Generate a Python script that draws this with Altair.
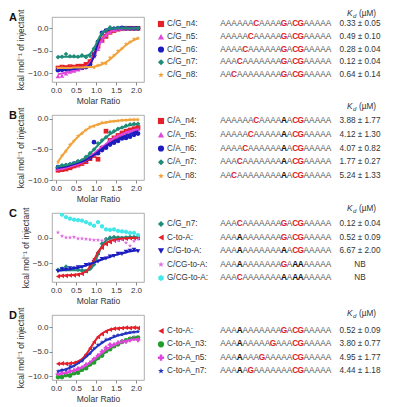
import altair as alt
import pandas as pd

F = "Liberation Sans"

# molar ratio of each injection
mr = [0.05, 0.15, 0.25, 0.35, 0.45, 0.55, 0.65, 0.75, 0.85, 0.95, 1.05,
      1.15, 1.25, 1.35, 1.45, 1.55, 1.65, 1.75, 1.85, 1.95, 2.05]

# ---------------- Panel A ----------------
a_labels = ["C/G_n4:", "C/G_n5:", "C/G_n6:", "C/G_n7:", "C/G_n8:"]
a_seqs = ["AAAAAA[C]AAAA[G]A[CG]AAAAA", "AAAAA[C]AAAAA[G]A[CG]AAAAA",
          "AAAA[C]AAAAAA[G]A[CG]AAAAA", "AAA[C]AAAAAAA[G]A[CG]AAAAA",
          "AA[C]AAAAAAAA[G]A[CG]AAAAA"]
a_kd = ["0.33 ± 0.05", "0.49 ± 0.10", "0.28 ± 0.04", "0.12 ± 0.04", "0.64 ± 0.14"]
a_pts = [
    [-8.8, -8.6, -8.7, -8.5, -8.6, -8.4, -8.4, -8.0, -7.4, -5.7, -4.0, -2.7, -1.8, -0.9, -0.5, -0.2, -0.1, 0.0, 0.0, 0.0, 0.0],
    [-10.6, -10.5, -10.0, -9.6, -9.4, -9.1, -8.8, -8.4, -7.6, -6.2, -4.6, -2.8, -1.5, -0.8, -0.4, -0.2, -0.1, 0.0, 0.0, 0.0, 0.0],
    [-9.3, -9.2, -9.1, -9.0, -9.0, -8.9, -8.8, -8.6, -8.0, -6.0, -3.0, -1.0, -0.5, -0.2, -0.1, 0.0, 0.1, 0.0, 0.0, 0.0, 0.0],
    [-6.4, -6.3, -5.7, -6.2, -6.2, -6.3, -6.0, -6.4, -6.1, -4.5, -3.0, -1.2, -0.6, 0.2, 0.0, 0.1, 0.0, 0.1, -0.1, 0.0, 0.0],
    [-8.8, -8.7, -8.7, -8.6, -8.7, -8.6, -8.6, -8.6, -8.5, -8.7, -8.2, -7.7, -7.8, -6.5, -6.0, -5.0, -4.5, -3.5, -3.0, -2.4, -2.2],
]
a_fit = [
    [-8.7, -8.7, -8.6, -8.6, -8.5, -8.4, -8.3, -8.0, -7.3, -5.8, -3.8, -2.3, -1.3, -0.7, -0.4, -0.2, -0.1, -0.05, 0.0, 0.0, 0.0],
    [-10.2, -10.0, -9.8, -9.6, -9.4, -9.2, -8.9, -8.5, -7.7, -6.2, -4.3, -2.6, -1.5, -0.8, -0.4, -0.2, -0.1, -0.05, 0.0, 0.0, 0.0],
    [-9.2, -9.2, -9.1, -9.1, -9.0, -8.9, -8.8, -8.6, -8.0, -6.2, -3.2, -1.2, -0.4, -0.15, -0.05, 0.0, 0.0, 0.0, 0.0, 0.0, 0.0],
    [-6.3, -6.3, -6.3, -6.3, -6.3, -6.3, -6.2, -6.1, -5.7, -4.5, -2.6, -1.1, -0.4, -0.15, -0.05, 0.0, 0.0, 0.0, 0.0, 0.0, 0.0],
    [-8.8, -8.8, -8.8, -8.8, -8.7, -8.7, -8.7, -8.6, -8.6, -8.5, -8.3, -8.0, -7.5, -6.9, -6.1, -5.3, -4.5, -3.7, -3.1, -2.6, -2.2],
]

# ---------------- Panel B ----------------
b_labels = ["C/A_n4:", "C/A_n5:", "C/A_n6:", "C/A_n7:", "C/A_n8:"]
b_seqs = ["AAAAAA[C]AAAA{A}A[CG]AAAAA", "AAAAA[C]AAAAA{A}A[CG]AAAAA",
          "AAAA[C]AAAAAA{A}A[CG]AAAAA", "AAA[C]AAAAAAA{A}A[CG]AAAAA",
          "AA[C]AAAAAAAA{A}A[CG]AAAAA"]
b_kd = ["3.88 ± 1.77", "4.12 ± 1.30", "4.07 ± 0.82", "1.77 ± 0.27", "5.24 ± 1.33"]
b_pts = [
    [-8.4, -8.3, -8.2, -8.0, -7.7, -7.5, -7.3, -7.0, -6.5, -6.0, -6.6, -4.8, -2.0, -3.5, -3.1, -2.7, -2.3, -2.0, -1.8, -1.6, -1.4],
    [-8.2, -8.0, -8.0, -7.7, -7.5, -7.6, -7.2, -6.9, -6.4, -5.8, -5.2, -4.5, -4.2, -3.4, -3.0, -2.7, -2.5, -2.2, -2.0, -1.8, -1.7],
    [-7.9, -7.8, -7.7, -7.5, -7.3, -7.1, -7.0, -6.8, -6.4, -3.8, -5.6, -5.1, -4.7, -4.2, -3.9, -3.6, -3.2, -3.1, -2.9, -2.6, -2.4],
    [-7.9, -7.6, -7.5, -7.4, -7.3, -6.9, -6.8, -6.2, -5.6, -5.0, -4.0, -3.5, -3.0, -2.2, -2.0, -1.6, -1.4, -1.1, -0.9, -0.8, -0.8],
    [-7.1, -6.0, -5.3, -4.2, -3.6, -2.8, -2.4, -1.8, -1.3, -1.2, -0.9, -0.6, -0.6, -0.4, -0.4, -0.3, -0.2, -0.2, -0.1, -0.1, -0.1],
]
b_fit = [
    [-8.6, -8.5, -8.3, -8.1, -7.9, -7.6, -7.3, -6.9, -6.4, -5.9, -5.3, -4.8, -4.3, -3.8, -3.3, -2.9, -2.5, -2.2, -1.9, -1.6, -1.4],
    [-8.3, -8.2, -8.0, -7.8, -7.6, -7.4, -7.1, -6.7, -6.2, -5.7, -5.1, -4.6, -4.1, -3.6, -3.2, -2.8, -2.5, -2.2, -2.0, -1.8, -1.7],
    [-8.0, -7.9, -7.8, -7.6, -7.4, -7.2, -7.0, -6.7, -6.3, -5.9, -5.4, -4.9, -4.4, -4.0, -3.6, -3.3, -3.0, -2.7, -2.5, -2.2, -2.0],
    [-7.8, -7.7, -7.6, -7.4, -7.2, -7.0, -6.7, -6.3, -5.7, -5.0, -4.3, -3.6, -3.0, -2.5, -2.1, -1.7, -1.4, -1.2, -1.0, -0.9, -0.8],
    [-7.0, -6.1, -5.2, -4.4, -3.6, -2.9, -2.3, -1.8, -1.4, -1.1, -0.9, -0.7, -0.55, -0.45, -0.35, -0.28, -0.22, -0.18, -0.15, -0.12, -0.1],
]

# ---------------- Panel C ----------------
c_labels = ["C/G_n7:", "C-to-A:", "C/G-to-A:", "C/CG-to-A:", "G/CG-to-A:"]
c_seqs = ["AAA[C]AAAAAAA[G]A[CG]AAAAA", "AAA{A}AAAAAAA[G]A[CG]AAAAA",
          "AAA{A}AAAAAAA{A}A[CG]AAAAA", "AAA{A}AAAAAAA[G]A{AA}AAAAA",
          "AAA[C]AAAAAAA{A}A{AA}AAAAA"]
c_kd = ["0.12 ± 0.04", "0.52 ± 0.09", "6.67 ± 2.00", "NB", "NB"]
c_pts = [
    [-6.3, -6.1, -5.7, -6.2, -6.0, -6.3, -6.5, -6.6, -6.0, -5.3, -3.0, -1.2, -0.3, 0.0, 0.1, 0.0, -0.1, 0.0, 0.1, 0.1, 0.0],
    [-7.6, -7.5, -7.5, -7.4, -7.4, -7.3, -7.1, -6.6, -5.6, -4.2, -3.0, -2.0, -1.3, -0.9, -0.6, -0.4, -0.3, -0.2, -0.1, -0.1, -0.1],
    [-6.6, -6.2, -6.3, -6.0, -6.1, -5.8, -5.8, -5.4, -5.3, -4.8, -4.7, -4.2, -4.1, -3.7, -3.6, -3.2, -3.2, -2.8, -2.6, -2.4, -2.7],
    [1.0, 0.3, 0.0, 0.0, 0.1, -0.2, -0.2, -0.3, -0.4, -0.5, -0.5, -0.6, -0.5, -0.5, -0.5, -0.6, -0.4, -1.0, -1.6, -0.7, -0.3],
    [5.6, 4.5, 4.0, 3.7, 3.5, 3.4, 3.3, 3.0, 2.7, 2.3, 3.0, 2.2, 1.6, 1.5, 1.6, 1.3, 1.2, 1.1, 0.9, 0.9, 0.5],
]
c_fit = [
    [-6.4, -6.4, -6.4, -6.4, -6.4, -6.4, -6.4, -6.4, -6.3, -5.2, -3.4, -1.6, -0.6, -0.2, 0.0, 0.0, 0.0, 0.0, 0.0, 0.0, 0.0],
    [-7.5, -7.5, -7.4, -7.4, -7.3, -7.2, -7.0, -6.6, -5.8, -4.4, -2.9, -1.8, -1.1, -0.7, -0.45, -0.3, -0.2, -0.15, -0.1, -0.08, -0.05],
    [-6.5, -6.4, -6.3, -6.2, -6.0, -5.9, -5.7, -5.5, -5.2, -4.9, -4.6, -4.3, -4.0, -3.8, -3.5, -3.3, -3.1, -2.9, -2.7, -2.6, -2.5],
    None,
    None,
]

# ---------------- Panel D ----------------
d_labels = ["C-to-A:", "C-to-A_n3:", "C-to-A_n5:", "C-to-A_n7:"]
d_seqs = ["AAA{A}AAAAAAA[G]A[CG]AAAAA", "AAA{A}AAAAA[G]AAA[CG]AAAAA",
          "AAA{A}AAA[G]AAAAA[CG]AAAAA", "AAA{A}A[G]AAAAAAA[CG]AAAAA"]
d_kd = ["0.52 ± 0.09", "3.80 ± 0.77", "4.95 ± 1.77", "4.44 ± 1.18"]
d_pts = [
    [-7.5, -7.4, -7.5, -7.4, -7.3, -7.1, -6.6, -5.6, -4.3, -3.0, -2.0, -1.4, -0.9, -0.5, -0.3, -0.3, -0.2, -0.1, -0.2, -0.1, -0.2],
    [-10.2, -10.2, -9.8, -9.9, -9.4, -9.3, -8.7, -8.4, -7.6, -7.2, -6.3, -5.8, -4.9, -4.5, -3.9, -3.5, -3.0, -2.7, -2.4, -2.2, -2.1],
    [-9.6, -9.4, -9.4, -9.0, -8.9, -8.5, -8.3, -7.7, -7.3, -6.5, -5.8, -5.0, -4.2, -3.6, -3.6, -3.2, -2.9, -2.9, -2.6, -2.3, -2.6],
    [-9.0, -8.7, -8.7, -8.0, -7.9, -7.2, -6.9, -5.8, -5.4, -4.3, -3.6, -3.1, -2.5, -2.4, -1.8, -1.6, -1.5, -1.2, -1.1, -1.0, -0.9],
]
d_fit = [
    [-7.5, -7.5, -7.4, -7.4, -7.3, -7.0, -6.5, -5.6, -4.4, -3.1, -2.0, -1.3, -0.8, -0.5, -0.3, -0.2, -0.15, -0.1, -0.1, -0.05, -0.05],
    [-10.2, -10.1, -9.9, -9.7, -9.5, -9.2, -8.8, -8.3, -7.7, -7.1, -6.4, -5.7, -5.0, -4.4, -3.9, -3.4, -3.0, -2.7, -2.4, -2.2, -2.1],
    [-9.6, -9.5, -9.3, -9.1, -8.9, -8.6, -8.2, -7.8, -7.2, -6.6, -5.9, -5.2, -4.6, -4.1, -3.7, -3.3, -3.0, -2.8, -2.6, -2.5, -2.4],
    [-9.0, -8.8, -8.6, -8.3, -7.9, -7.4, -6.8, -6.1, -5.3, -4.5, -3.8, -3.2, -2.7, -2.3, -2.0, -1.7, -1.5, -1.3, -1.1, -1.0, -0.9],
]

# ---------------- styles ----------------
RED, MAG, BLUE, TEAL, ORANGE = "#e4202a", "#e046dc", "#1c1cc0", "#1f8c78", "#f2a23a"
PINK, CYAN, GREEN, BLUE2 = "#e070e0", "#44e8e8", "#1f9e2c", "#2233c0"
STAR = "M0,-1L0.235,-0.324L0.951,-0.309L0.38,0.124L0.588,0.809L0,0.4L-0.588,0.809L-0.38,0.124L-0.951,-0.309L-0.235,-0.324Z"
HEX = "M0,-1L0.866,-0.5L0.866,0.5L0,1L-0.866,0.5L-0.866,-0.5Z"

a_style = [(RED, "square"), (MAG, "triangle-up"), (BLUE, "circle"), (TEAL, "diamond"), (ORANGE, STAR)]
b_style = a_style
c_style = [(TEAL, "diamond"), (RED, "triangle-left"), (BLUE, "triangle-down"), (PINK, STAR), (CYAN, HEX)]
d_style = [(RED, "triangle-left"), (GREEN, "circle"), (MAG, "cross"), (BLUE2, STAR)]

SEQ_RED = "#e0202a"


def seq_chars(seq):
    out, mode, i = [], "n", 0
    for ch in seq:
        if ch == "[":
            mode = "r"
        elif ch == "{":
            mode = "b"
        elif ch in "]}":
            mode = "n"
        else:
            out.append((i, ch, mode))
            i += 1
    return out


def plot_panel(letter, labels, pts, fits, style, ydom, yvals, h):
    prow, frow = [], []
    for k, lab in enumerate(labels):
        col, shp = style[k]
        for x, v in zip(mr, pts[k]):
            prow.append(dict(s=lab, mr=x, v=v, color=col, shape=shp))
        if fits[k] is not None:
            for x, v in zip(mr, fits[k]):
                frow.append(dict(s=lab, mr=x, v=v, color=col))
    X = alt.X("mr:Q", scale=alt.Scale(domain=[-0.1, 2.2], nice=False, zero=False),
              axis=alt.Axis(values=[0, 0.5, 1, 1.5, 2], format=".1f", title="Molar Ratio"))
    Y = alt.Y("v:Q", scale=alt.Scale(domain=ydom, nice=False, zero=False),
              axis=alt.Axis(values=yvals, format=".1f", title="kcal mol⁻¹ of injectant"))
    p = alt.Chart(pd.DataFrame(prow)).mark_point(filled=True, size=22, opacity=1, clip=True).encode(
        X, Y, color=alt.Color("color:N", scale=None), shape=alt.Shape("shape:N", scale=None), detail="s:N")
    l = alt.Chart(pd.DataFrame(frow)).mark_line(strokeWidth=2, clip=True, interpolate="monotone").encode(
        X, Y, color=alt.Color("color:N", scale=None), detail="s:N", order="mr:Q")
    t = alt.Chart(pd.DataFrame({"t": [letter]})).mark_text(
        font=F, fontWeight="bold", fontSize=11, align="left", baseline="top", color="#111").encode(
        x=alt.value(-43), y=alt.value(-5), text="t:N")
    return alt.layer(p, l, t).properties(width=92, height=h, view=alt.ViewBackground(stroke="#999", strokeWidth=0.8))


def table_panel(labels, seqs, kds, style, h, rng, head_y):
    rows, chars = [], []
    for k, lab in enumerate(labels):
        col, shp = style[k]
        rows.append(dict(row=k + 1, label=lab, kd=kds[k], color=col, shape=shp))
        for i, ch, m in seq_chars(seqs[k]):
            chars.append(dict(row=k + 1, pos=i, ch=ch, kind=m))
    rdf, cdf = pd.DataFrame(rows), pd.DataFrame(chars)
    Y = alt.Y("row:Q", scale=alt.Scale(domain=[1, len(labels)], range=rng), axis=None)
    XP = alt.X("pos:Q", scale=alt.Scale(domain=[0, 19], range=[75, 180.5]), axis=None)
    sym = alt.Chart(rdf).mark_point(filled=True, size=38, opacity=1).encode(
        x=alt.value(13), y=Y, color=alt.Color("color:N", scale=None), shape=alt.Shape("shape:N", scale=None))
    lab = alt.Chart(rdf).mark_text(align="left", baseline="middle", font=F, fontSize=8.2, color="#333").encode(
        x=alt.value(19), y=Y, text="label:N")
    kd = alt.Chart(rdf).mark_text(align="center", baseline="middle", font=F, fontSize=8.2, color="#333").encode(
        x=alt.value(212), y=Y, text="kd:N")
    chn = alt.Chart(cdf).transform_filter("datum.kind == 'n'").mark_text(
        baseline="middle", font=F, fontSize=8.3, color="#555").encode(XP, Y, text="ch:N")
    chr_ = alt.Chart(cdf).transform_filter("datum.kind == 'r'").mark_text(
        baseline="middle", font=F, fontSize=8.3, fontWeight="bold", color=SEQ_RED).encode(XP, Y, text="ch:N")
    chb = alt.Chart(cdf).transform_filter("datum.kind == 'b'").mark_text(
        baseline="middle", font=F, fontSize=8.3, fontWeight="bold", color="#111").encode(XP, Y, text="ch:N")
    hdf = pd.DataFrame({"k": ["K"], "d": ["d"], "u": ["(µM)"]})
    hk = alt.Chart(hdf).mark_text(align="left", baseline="middle", font=F, fontSize=8.2, fontStyle="italic",
                                  color="#333").encode(x=alt.value(199), y=alt.value(head_y), text="k:N")
    hd = alt.Chart(hdf).mark_text(align="left", baseline="middle", font=F, fontSize=6, fontStyle="italic",
                                  color="#333", dy=2).encode(x=alt.value(205), y=alt.value(head_y), text="d:N")
    hu = alt.Chart(hdf).mark_text(align="left", baseline="middle", font=F, fontSize=8.2,
                                  color="#333").encode(x=alt.value(211), y=alt.value(head_y), text="u:N")
    return alt.layer(sym, lab, chn, chr_, chb, kd, hk, hd, hu).properties(
        width=236, height=h, view=alt.ViewBackground(stroke="transparent"))


hA, hB, hC, hD = 65, 65, 69, 65
cells = [
    plot_panel("A", a_labels, a_pts, a_fit, a_style, [-11.9, 2.5], [0, -5, -10], hA),
    table_panel(a_labels, a_seqs, a_kd, a_style, hA, [7, 58], -3),
    plot_panel("B", b_labels, b_pts, b_fit, b_style, [-10, 0.65], [0, -5, -10], hB),
    table_panel(b_labels, b_seqs, b_kd, b_style, hB, [6, 61], -8),
    plot_panel("C", c_labels, c_pts, c_fit, c_style, [-8.7, 4.8], [5, 0, -5], hC),
    table_panel(c_labels, c_seqs, c_kd, c_style, hC, [11, 65], -4),
    plot_panel("D", d_labels, d_pts, d_fit, d_style, [-10.8, 2.5], [0, -5, -10], hD),
    table_panel(d_labels, d_seqs, d_kd, d_style, hD, [16, 56], -1),
]

chart = alt.concat(*cells, columns=2, spacing={"row": 33, "column": 4}, bounds="flush").properties(
    padding={"left": 0, "top": 0, "right": 0, "bottom": 0}
).configure_axis(
    labelFont=F, titleFont=F, labelFontSize=8, titleFontSize=8.5, titleFontWeight="normal",
    labelColor="#333", titleColor="#333", tickColor="#888", tickSize=3, domain=False, grid=False,
    labelPadding=1, titlePadding=2
)

chart.save("out.html", embed_options={"renderer": "svg", "actions": False})
